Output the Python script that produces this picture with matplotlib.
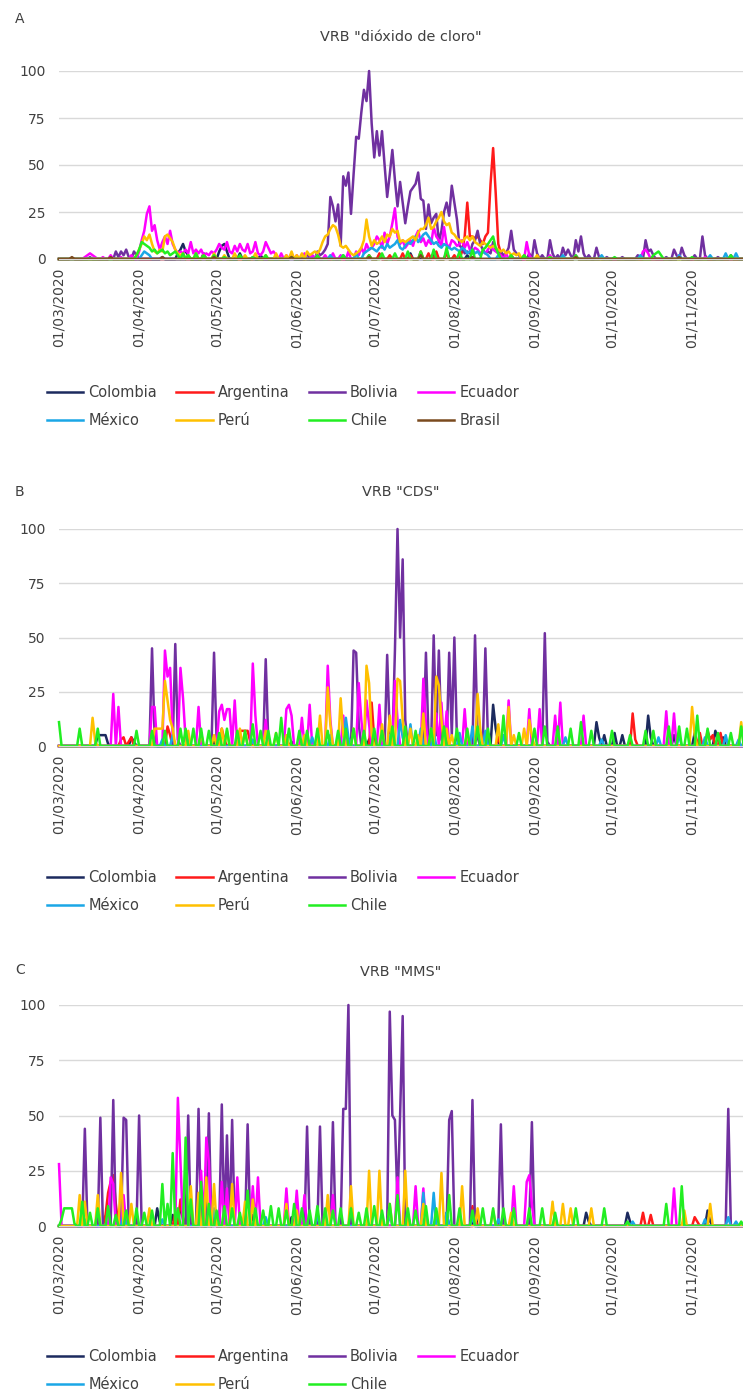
import numpy as np
import pandas as pd
import matplotlib
matplotlib.use('Agg')
import matplotlib.pyplot as plt
import matplotlib.dates as mdates

# day index counted from 01/03/2020, (day, value) pairs; days not listed are 0
countries = ['Colombia', 'Argentina', 'Bolivia', 'Ecuador', 'México', 'Perú', 'Chile', 'Brasil']
colors = ['#1c2a5e', '#ff1a1a', '#7030a0', '#ff00ff', '#1aa7e6', '#ffc000', '#22ee22', '#7a4a1e']

# --- A: "dióxido de cloro"
a_colombia = [(46, 3), (47, 5), (48, 8), (49, 4), (50, 2), (56, 3), (62, 4), (63, 7), (64, 8), (65, 4),
              (70, 3), (78, 2), (124, 2), (136, 3), (145, 3), (150, 4), (158, 2)]
a_argentina = [(120, 2), (124, 3), (128, 2), (133, 3), (136, 2), (140, 4), (143, 3), (146, 4), (150, 3),
               (153, 2), (156, 4), (157, 12), (158, 30), (159, 12), (160, 12), (161, 11), (162, 12),
               (163, 10), (164, 8), (165, 12), (166, 14), (167, 40), (168, 59), (169, 35), (170, 8),
               (171, 3), (175, 2), (200, 1)]
a_bolivia = [(12, 1), (22, 4), (23, 1), (24, 4), (25, 2), (26, 5), (27, 1), (29, 4), (30, 2), (40, 1),
             (60, 1), (75, 1), (90, 2), (96, 3), (98, 2), (100, 4), (101, 2), (102, 3), (103, 5),
             (104, 8), (105, 33), (106, 28), (107, 20), (108, 29), (109, 7), (110, 44), (111, 39),
             (112, 46), (113, 24), (114, 45), (115, 65), (116, 64), (117, 78), (118, 90), (119, 84),
             (120, 100), (121, 72), (122, 54), (123, 68), (124, 55), (125, 68), (126, 50), (127, 33),
             (128, 45), (129, 58), (130, 42), (131, 28), (132, 41), (133, 30), (134, 19), (135, 28),
             (136, 36), (137, 38), (138, 40), (139, 46), (140, 32), (141, 31), (142, 16), (143, 29),
             (144, 19), (145, 22), (146, 24), (147, 9), (148, 15), (149, 25), (150, 30), (151, 23),
             (152, 39), (153, 30), (154, 21), (155, 7), (156, 6), (157, 3), (158, 4), (159, 3),
             (160, 8), (161, 10), (162, 15), (163, 8), (164, 5), (165, 3), (166, 4), (167, 3),
             (168, 9), (169, 5), (170, 3), (171, 4), (172, 2), (173, 3), (174, 6), (175, 15),
             (176, 5), (177, 3), (178, 2), (180, 2), (182, 3), (184, 10), (185, 3), (187, 2),
             (190, 10), (191, 3), (193, 2), (195, 6), (196, 2), (197, 5), (198, 2), (200, 10),
             (201, 4), (202, 12), (203, 3), (205, 2), (208, 6), (209, 1), (212, 1), (218, 1),
             (224, 2), (227, 10), (228, 4), (229, 5), (230, 2), (235, 1), (238, 5), (239, 2),
             (241, 6), (242, 2), (246, 2), (249, 12), (250, 2), (255, 1), (260, 2)]
a_ecuador = [(10, 1), (11, 2), (12, 3), (13, 2), (14, 1), (17, 1), (20, 2), (24, 1), (28, 2), (31, 4),
             (32, 10), (33, 15), (34, 24), (35, 28), (36, 15), (37, 18), (38, 10), (39, 5), (40, 9),
             (41, 12), (42, 8), (43, 15), (44, 8), (45, 5), (46, 3), (47, 4), (48, 3), (49, 5),
             (50, 3), (51, 9), (52, 3), (53, 5), (54, 3), (55, 5), (56, 2), (57, 3), (58, 2),
             (59, 4), (60, 3), (61, 5), (62, 8), (63, 6), (64, 5), (65, 9), (66, 4), (67, 3),
             (68, 7), (69, 4), (70, 8), (71, 5), (72, 4), (73, 8), (74, 3), (75, 4), (76, 9),
             (77, 3), (78, 2), (79, 4), (80, 9), (81, 6), (82, 3), (83, 4), (84, 2), (86, 3),
             (88, 2), (90, 3), (92, 2), (95, 3), (98, 2), (100, 3), (103, 2), (106, 3), (109, 2),
             (112, 4), (115, 4), (116, 2), (117, 6), (118, 3), (119, 8), (120, 5), (121, 6),
             (122, 8), (123, 12), (124, 10), (125, 6), (126, 14), (127, 8), (128, 12), (129, 19),
             (130, 27), (131, 12), (132, 8), (133, 10), (134, 6), (135, 8), (136, 10), (137, 7),
             (138, 12), (139, 15), (140, 9), (141, 11), (142, 7), (143, 10), (144, 8), (145, 17),
             (146, 12), (147, 10), (148, 7), (149, 17), (150, 8), (151, 6), (152, 10), (153, 9),
             (154, 7), (155, 8), (156, 10), (157, 6), (158, 9), (159, 5), (160, 4), (161, 6),
             (162, 5), (163, 3), (164, 4), (165, 3), (166, 5), (167, 7), (168, 5), (169, 4),
             (170, 3), (171, 2), (173, 3), (175, 2), (181, 9), (182, 2), (190, 2), (200, 2),
             (210, 1), (226, 4), (227, 5), (228, 3), (240, 2), (250, 1)]
a_mexico = [(32, 2), (33, 4), (34, 3), (35, 2), (40, 1), (50, 1), (70, 1), (95, 1), (105, 2), (110, 2),
            (115, 3), (118, 3), (119, 4), (120, 5), (121, 6), (122, 5), (123, 4), (124, 6), (125, 7),
            (126, 5), (127, 8), (128, 6), (129, 7), (130, 8), (131, 10), (132, 6), (133, 5), (134, 7),
            (135, 9), (136, 8), (137, 10), (138, 12), (139, 9), (140, 11), (141, 13), (142, 14),
            (143, 12), (144, 10), (145, 8), (146, 9), (147, 7), (148, 6), (149, 8), (150, 7),
            (151, 6), (152, 5), (153, 6), (154, 5), (155, 4), (156, 6), (157, 5), (158, 3), (159, 4),
            (160, 5), (161, 3), (162, 4), (163, 2), (164, 4), (165, 3), (166, 2), (170, 2), (180, 1),
            (195, 2), (210, 2), (225, 2), (240, 2), (252, 2), (258, 3), (262, 3)]
a_peru = [(30, 2), (31, 5), (32, 8), (33, 12), (34, 10), (35, 13), (36, 8), (37, 4), (38, 3), (39, 5),
          (40, 4), (41, 12), (42, 13), (43, 11), (44, 9), (45, 5), (46, 3), (47, 2), (48, 3), (50, 2),
          (53, 3), (56, 2), (60, 3), (64, 2), (68, 3), (72, 2), (76, 3), (80, 2), (84, 3), (88, 2),
          (90, 4), (92, 2), (94, 3), (96, 4), (97, 2), (98, 3), (99, 4), (100, 3), (101, 5), (102, 9),
          (103, 12), (104, 13), (105, 16), (106, 18), (107, 17), (108, 13), (109, 7), (110, 6),
          (111, 7), (112, 5), (113, 3), (114, 2), (115, 3), (116, 4), (117, 6), (118, 10), (119, 21),
          (120, 12), (121, 7), (122, 10), (123, 8), (124, 9), (125, 12), (126, 9), (127, 13),
          (128, 12), (129, 16), (130, 14), (131, 15), (132, 9), (133, 10), (134, 9), (135, 10),
          (136, 11), (137, 12), (138, 10), (139, 14), (140, 16), (141, 16), (142, 18), (143, 22),
          (144, 16), (145, 17), (146, 20), (147, 22), (148, 25), (149, 20), (150, 18), (151, 19),
          (152, 14), (153, 13), (154, 11), (155, 10), (156, 9), (157, 11), (158, 12), (159, 10),
          (160, 12), (161, 9), (162, 8), (163, 7), (164, 9), (165, 8), (166, 7), (167, 6), (168, 7),
          (169, 6), (170, 5), (171, 4), (172, 5), (173, 3), (174, 4), (175, 2), (176, 3), (177, 2),
          (178, 3), (180, 2), (185, 2), (190, 1)]
a_chile = [(30, 2), (31, 5), (32, 9), (33, 8), (34, 7), (35, 6), (36, 4), (37, 5), (38, 3), (39, 4),
           (40, 5), (41, 3), (42, 4), (43, 2), (44, 3), (45, 4), (46, 2), (48, 3), (50, 2), (53, 3),
           (56, 2), (60, 2), (64, 1), (70, 2), (75, 1), (80, 2), (90, 1), (100, 2), (110, 2), (120, 2),
           (125, 3), (130, 3), (135, 4), (140, 4), (145, 5), (150, 6), (155, 4), (160, 5), (164, 5),
           (165, 6), (166, 8), (167, 10), (168, 12), (169, 6), (170, 3), (175, 2), (180, 2), (190, 1),
           (200, 2), (215, 1), (230, 2), (231, 3), (232, 4), (233, 2), (245, 1), (260, 2)]
a_brasil = [(5, 1), (20, 1), (40, 1), (60, 1), (90, 1), (120, 1), (140, 2), (160, 1), (200, 1), (240, 1)]

# --- B: "CDS"
b_colombia = [(15, 5), (16, 5), (17, 5), (18, 5), (19, 1), (28, 4), (29, 2), (60, 2), (90, 2), (120, 3),
              (168, 19), (169, 8), (170, 2), (208, 11), (209, 4), (211, 5), (215, 6), (218, 5),
              (228, 14), (229, 4), (238, 5), (246, 6), (254, 7), (255, 3), (257, 4)]
b_argentina = [(24, 3), (25, 4), (27, 2), (28, 4), (42, 9), (43, 5), (63, 8), (64, 3), (70, 7), (71, 7),
               (72, 7), (73, 7), (74, 2), (121, 20), (122, 3), (150, 5), (170, 4), (222, 15), (223, 3),
               (248, 6), (251, 7), (252, 3), (253, 5), (256, 6)]
b_bolivia = [(36, 45), (37, 5), (45, 47), (46, 3), (60, 43), (61, 2), (80, 40), (81, 2), (114, 44),
             (115, 43), (116, 10), (127, 42), (128, 5), (130, 44), (131, 100), (132, 50), (133, 86),
             (134, 12), (142, 43), (143, 4), (145, 51), (146, 5), (147, 44), (148, 3), (151, 43),
             (152, 5), (153, 50), (154, 3), (161, 51), (162, 4), (165, 45), (166, 3), (188, 52), (189, 2)]
b_ecuador = [(21, 24), (23, 18), (36, 18), (37, 18), (41, 44), (42, 32), (43, 36), (44, 5), (47, 36),
             (48, 22), (49, 3), (54, 18), (62, 16), (63, 19), (64, 12), (65, 17), (66, 17), (68, 21),
             (75, 38), (76, 14), (80, 12), (88, 17), (89, 19), (90, 14), (94, 13), (97, 19), (104, 37),
             (105, 12), (110, 14), (116, 29), (117, 12), (119, 21), (120, 10), (124, 19), (130, 30),
             (131, 12), (141, 31), (142, 10), (146, 15), (148, 20), (150, 16), (157, 17), (174, 21),
             (182, 17), (186, 17), (192, 14), (194, 20), (203, 14), (235, 16), (238, 15)]
b_mexico = [(40, 3), (44, 5), (50, 4), (75, 3), (98, 4), (105, 5), (111, 13), (112, 4), (128, 5),
            (132, 12), (133, 4), (136, 10), (140, 8), (145, 7), (155, 6), (160, 9), (165, 7), (172, 5),
            (196, 4), (210, 3), (232, 4), (240, 5), (250, 4), (258, 5), (263, 3)]
b_peru = [(13, 13), (14, 2), (37, 8), (38, 8), (39, 8), (40, 8), (41, 30), (42, 21), (43, 12), (44, 8),
          (50, 7), (55, 6), (60, 5), (63, 8), (65, 7), (70, 8), (72, 7), (80, 7), (84, 6), (88, 5),
          (95, 5), (101, 14), (104, 27), (105, 10), (109, 22), (110, 5), (114, 8), (119, 37), (120, 29),
          (121, 5), (125, 10), (128, 14), (131, 31), (132, 30), (133, 12), (136, 8), (139, 5),
          (141, 15), (144, 8), (146, 32), (147, 28), (148, 12), (150, 8), (152, 5), (158, 6), (162, 24),
          (163, 8), (170, 10), (174, 18), (176, 5), (180, 8), (182, 12), (183, 5), (245, 18), (246, 5),
          (264, 11)]
b_chile = [(0, 11), (8, 8), (15, 8), (30, 7), (36, 7), (41, 7), (47, 8), (49, 8), (52, 8), (55, 8),
           (58, 7), (62, 6), (65, 8), (69, 7), (72, 7), (75, 10), (78, 7), (81, 7), (84, 6), (86, 13),
           (89, 8), (93, 7), (96, 7), (100, 8), (104, 7), (108, 7), (111, 8), (114, 8), (118, 7),
           (122, 8), (125, 7), (129, 9), (134, 9), (138, 7), (144, 8), (149, 9), (154, 8), (158, 8),
           (162, 9), (166, 8), (172, 14), (178, 6), (184, 8), (188, 9), (193, 9), (198, 8), (202, 11),
           (206, 7), (214, 7), (221, 5), (227, 7), (230, 7), (236, 9), (240, 9), (243, 8), (247, 14),
           (251, 8), (255, 6), (260, 6), (264, 9)]

# --- C: "MMS"
c_colombia = [(38, 8), (39, 2), (44, 5), (47, 10), (48, 3), (60, 4), (75, 5), (90, 4), (135, 5),
              (150, 6), (161, 6), (204, 6), (205, 2), (220, 6), (221, 2), (251, 7), (252, 2)]
c_argentina = [(18, 5), (19, 15), (20, 20), (21, 23), (22, 10), (30, 4), (45, 6), (47, 12), (48, 4),
               (60, 3), (160, 9), (161, 3), (226, 6), (229, 5), (246, 4), (247, 2)]
c_bolivia = [(10, 44), (16, 49), (21, 57), (25, 49), (26, 48), (31, 50), (50, 50), (54, 53), (58, 51),
             (63, 55), (65, 41), (67, 48), (73, 46), (96, 45), (101, 45), (106, 47), (110, 53),
             (111, 53), (112, 100), (128, 97), (129, 50), (130, 48), (131, 10), (132, 50), (133, 95),
             (151, 48), (152, 52), (160, 57), (171, 46), (183, 47), (259, 53)]
c_ecuador = [(0, 28), (20, 22), (21, 19), (25, 14), (46, 58), (47, 29), (55, 25), (57, 40), (58, 29),
             (63, 20), (65, 17), (69, 22), (75, 18), (77, 22), (88, 17), (92, 16), (95, 14), (106, 14),
             (131, 22), (138, 18), (141, 17), (176, 18), (181, 20), (182, 23), (183, 10), (238, 17)]
c_mexico = [(10, 3), (25, 6), (40, 3), (60, 8), (80, 4), (100, 5), (128, 5), (141, 15), (145, 15),
            (150, 6), (160, 4), (170, 3), (222, 2), (250, 3), (259, 4), (262, 2)]
c_peru = [(8, 14), (10, 11), (15, 14), (24, 24), (28, 10), (35, 8), (51, 18), (54, 15), (57, 22),
          (60, 19), (67, 19), (72, 11), (75, 12), (88, 10), (92, 7), (104, 14), (113, 18), (120, 25),
          (124, 25), (128, 10), (134, 25), (141, 10), (148, 24), (156, 18), (162, 8), (168, 7), (175, 6),
          (191, 11), (195, 10), (198, 8), (206, 8), (242, 7), (252, 10)]
c_chile = [(1, 3), (2, 8), (3, 8), (4, 8), (5, 8), (6, 1), (9, 11), (12, 6), (15, 8), (19, 9), (22, 5),
           (26, 7), (30, 8), (33, 6), (36, 7), (40, 19), (42, 10), (44, 33), (46, 8), (49, 40), (51, 12),
           (55, 20), (58, 10), (61, 7), (64, 9), (67, 8), (70, 6), (73, 16), (76, 8), (79, 7), (82, 9),
           (85, 8), (88, 7), (91, 10), (94, 8), (97, 7), (100, 9), (103, 8), (106, 7), (109, 8),
           (113, 8), (116, 6), (119, 8), (122, 9), (125, 7), (128, 10), (131, 14), (135, 8), (138, 7),
           (142, 9), (146, 8), (151, 14), (155, 8), (160, 7), (164, 8), (168, 8), (172, 8), (176, 8),
           (182, 8), (187, 8), (192, 6), (200, 8), (211, 8), (220, 2), (235, 10), (241, 18), (264, 2)]

panels = [
    ('A', 'VRB "dióxido de cloro"',
     [a_colombia, a_argentina, a_bolivia, a_ecuador, a_mexico, a_peru, a_chile, a_brasil]),
    ('B', 'VRB "CDS"',
     [b_colombia, b_argentina, b_bolivia, b_ecuador, b_mexico, b_peru, b_chile]),
    ('C', 'VRB "MMS"',
     [c_colombia, c_argentina, c_bolivia, c_ecuador, c_mexico, c_peru, c_chile]),
]

n_days = 270
start = pd.Timestamp('2020-03-01')
dates = pd.date_range(start, periods=n_days, freq='D')


def daily(pairs):
    arr = np.zeros(n_days)
    for d, v in pairs:
        arr[d] = v
    return arr


W, H = 743, 1393
fig = plt.figure(figsize=(W / 100, H / 100), dpi=100)
txt = '#404040'

# pixel layout: (y of 100, y of 0, label y, title y, legend top)
layout = [(71, 259, 19, 37, 385), (529, 746, 492, 492, 870), (1005, 1226, 970, 972, 1349)]
left_px = 59

for (label, title, series), (ytop, ybot, ylab, ytit, leg_top) in zip(panels, layout):
    ax = fig.add_axes([left_px / W, 1 - ybot / H, 1 - left_px / W, (ybot - ytop) / H])
    lines = []
    for i, pairs in enumerate(series):
        ln, = ax.plot(dates, daily(pairs), color=colors[i], lw=1.8, label=countries[i],
                      solid_joinstyle='round', clip_on=False)
        lines.append(ln)
    ax.set_ylim(0, 100)
    ax.set_xlim(start, start + pd.Timedelta(days=264.7))
    ax.set_yticks([0, 25, 50, 75, 100])
    ax.yaxis.grid(True, color='#d9d9d9', lw=1)
    ax.set_axisbelow(True)
    for s in ['top', 'right', 'left']:
        ax.spines[s].set_visible(False)
    ax.spines['bottom'].set_color('#d9d9d9')
    ax.xaxis.set_major_locator(mdates.MonthLocator(bymonthday=1))
    ax.xaxis.set_major_formatter(mdates.DateFormatter('%d/%m/%Y'))
    ax.tick_params(axis='x', length=0, pad=6.5, labelsize=10, labelcolor=txt, labelrotation=90)
    ax.tick_params(axis='y', length=0, pad=9.5, labelsize=10, labelcolor=txt)

    fig.text(15 / W, 1 - ylab / H, label, fontsize=10, color=txt, va='center', ha='left')
    fig.text((left_px + W) / 2 / W, 1 - ytit / H, title, fontsize=10.4, color=txt,
             va='center', ha='center')
    # legend reads row by row: first four in row 1, the rest in row 2
    order = [0, 4, 1, 5, 2, 6, 3, 7][:len(lines)] if len(lines) == 8 else [0, 4, 1, 5, 2, 6, 3]
    ax.legend([lines[k] for k in order], [countries[k] for k in order],
              loc='upper left', bbox_to_anchor=(47 / W, 1 - leg_top / H),
              bbox_transform=fig.transFigure, ncol=4, frameon=False, fontsize=10.5,
              labelcolor=txt, borderpad=0, borderaxespad=0, handlelength=2.5,
              handletextpad=0.35, columnspacing=1.3, labelspacing=0.9)

fig.savefig('out.png', dpi=100)
